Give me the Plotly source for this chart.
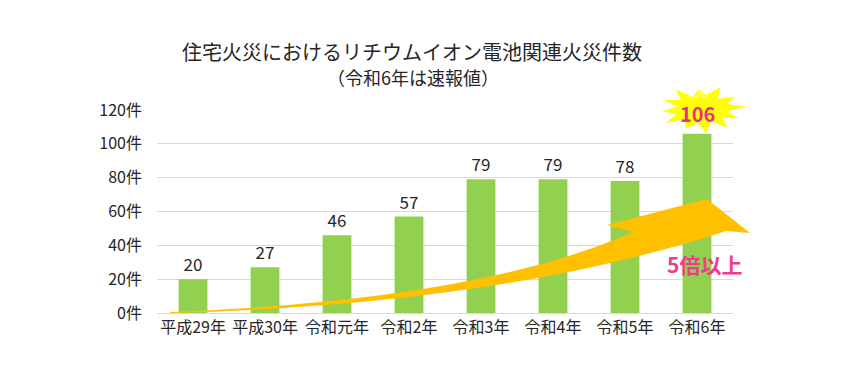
import math
import plotly.graph_objects as go

categories = ["平成29年", "平成30年", "令和元年", "令和2年", "令和3年", "令和4年", "令和5年", "令和6年"]
values = [20, 27, 46, 57, 79, 79, 78, 106]
y_ticks = [0, 20, 40, 60, 80, 100, 120]
y_tick_labels = [f"{v}件" for v in y_ticks]

W, H = 867, 391
OFF = 8  # page body margin
L, R, T, B = 157, 733, 110, 313  # plot area in screen pixels


def px(x):
    return (x - L) / (R - L)


def py(y):
    return (B - y) / (B - T)


FONT = "Noto Sans CJK JP"
# last bar's label is drawn separately over the starburst
bar_labels = [str(v) for v in values[:-1]] + [""]

fig = go.Figure()
fig.add_trace(go.Bar(
    x=categories, y=values, width=0.4,
    marker=dict(color="#92D050", line=dict(width=0)),
    text=bar_labels, textposition="outside",
    textfont=dict(family=FONT, size=17, color="#262626"),
    cliponaxis=False, hoverinfo="skip",
))

# curved growth arrow (decoration)
arrow = (f"M {px(170)},{py(312)} Q {px(480)},{py(300)} {px(633)},{py(232)} "
         f"L {px(607)},{py(225)} L {px(707)},{py(199)} L {px(750)},{py(233)} "
         f"L {px(726)},{py(231)} Q {px(500)},{py(305)} {px(170)},{py(313)} Z")
shapes = [dict(type="path", xref="paper", yref="paper", path=arrow,
               fillcolor="#FFC000", line=dict(width=0), layer="above")]

# starburst behind 106
cx, cy, rx, ry = 702, 109, 45, 24
radii = [1.0, 0.6, 0.9, 0.55, 1.0, 0.6, 0.85, 0.55, 1.0, 0.6, 0.95, 0.55,
         0.9, 0.6, 1.0, 0.55, 0.9, 0.6, 1.0, 0.55, 0.95, 0.6, 0.9, 0.55]
pts = []
n = len(radii)
for i, r in enumerate(radii):
    a = 2 * math.pi * i / n + 0.1
    pts.append((cx + rx * r * math.cos(a), cy - ry * r * math.sin(a)))
star = "M " + " L ".join(f"{px(x)},{py(y)}" for x, y in pts) + " Z"
shapes.append(dict(type="path", xref="paper", yref="paper", path=star,
                   fillcolor="#FFFF00", line=dict(width=0), layer="above"))


def ann(text, x, y, size, color):
    return dict(text=text, x=px(x), y=py(y), xref="paper", yref="paper",
                xanchor="center", yanchor="middle", showarrow=False,
                font=dict(family=FONT, size=size, color=color))


annotations = [
    ann("住宅火災におけるリチウムイオン電池関連火災件数", 412, 52, 20, "#262626"),
    ann("（令和6年は速報値）", 413, 77, 18, "#262626"),
    ann(str(values[-1]), 697, 92, 13, "rgba(255,255,240,0.75)"),
    ann("<b>106</b>", 697, 113, 20, "#EE2E80"),
    ann("<b>5倍以上</b>", 704, 264, 21, "#EE3D8F"),
]

fig.update_layout(
    width=W, height=H,
    margin=dict(l=L - OFF, r=W - R + OFF, t=T - OFF, b=H - B + OFF, pad=0),
    paper_bgcolor="white", plot_bgcolor="white",
    showlegend=False,
    shapes=shapes, annotations=annotations,
    xaxis=dict(showgrid=False, showline=True, linecolor="#d9d9d9", linewidth=1,
               ticks="", tickfont=dict(family=FONT, size=16, color="#262626"),
               fixedrange=True),
    yaxis=dict(range=[0, 120], tickvals=y_ticks, ticktext=y_tick_labels,
               showgrid=True, gridcolor="#d9d9d9", gridwidth=1, zeroline=False,
               showline=False, ticks="", ticklabelstandoff=14,
               tickfont=dict(family=FONT, size=16, color="#262626"),
               fixedrange=True),
)

fig.write_html("out.html")
